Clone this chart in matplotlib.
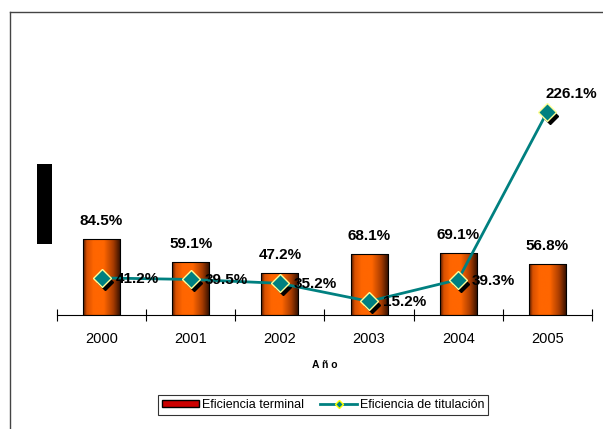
import matplotlib
matplotlib.use("Agg")
import matplotlib.pyplot as plt
import matplotlib.transforms as mtransforms
from matplotlib.colors import LinearSegmentedColormap
from matplotlib.patches import Rectangle
from matplotlib.lines import Line2D
import numpy as np

plt.rcParams["font.family"] = ["Liberation Sans", "DejaVu Sans"]

# datos
anios = ["2000", "2001", "2002", "2003", "2004", "2005"]
eficiencia_terminal = [84.5, 59.1, 47.2, 68.1, 69.1, 56.8]
eficiencia_titulacion = [41.2, 39.5, 35.2, 15.2, 39.3, 226.1]

fig = plt.figure(figsize=(6.03, 4.29), dpi=100)
# eje x en y=315 px, 0.9 px por punto porcentual
ax = fig.add_axes([57 / 603, 1 - 315 / 429, 535 / 603, 270 / 429])

x = np.arange(len(anios))
ancho = 0.415

# barras con degradado tipo cilindro
cmap = LinearSegmentedColormap.from_list(
    "cil",
    [(0.0, "#4a1800"), (0.1, "#d85000"), (0.28, "#ff6600"), (0.55, "#ff6600"),
     (0.8, "#a83c00"), (1.0, "#2a0c00")],
)
grad = np.linspace(0, 1, 256).reshape(1, -1)
barras = ax.bar(x, eficiencia_terminal, ancho, color="none", edgecolor="black",
                linewidth=0.8, zorder=2)
for b in barras:
    x0, h = b.get_x(), b.get_height()
    im = ax.imshow(grad, cmap=cmap, aspect="auto",
                   extent=[x0, x0 + ancho, 0, h], zorder=1)
    im.set_clip_path(b)
    ax.text(x0 + ancho / 2, h + 20, f"{h:.1f}%", ha="center", va="center",
            fontsize=11, fontweight="bold", zorder=5)

# linea de titulacion con sombra en marcadores
sombra = mtransforms.offset_copy(ax.transData, fig=fig, x=3, y=-4, units="dots")
ax.plot(x, eficiencia_titulacion, linestyle="none", marker="D", markersize=8.5,
        color="black", transform=sombra, zorder=3)
ax.plot(x, eficiencia_titulacion, color="#008080", linewidth=2, marker="D",
        markersize=9.5, markerfacecolor="#008080", markeredgecolor="#ffff99",
        markeredgewidth=1, zorder=4)
for i, v in enumerate(eficiencia_titulacion):
    if v > 200:
        ax.text(i + 0.27, v + 20, f"{v:.1f}%", ha="center", va="center",
                fontsize=11, fontweight="bold", zorder=5)
    else:
        ax.text(i + 0.155, v - 1, f"{v:.1f}%", ha="left", va="center",
                fontsize=11, fontweight="bold", zorder=5)

ax.set_xlim(-0.5, len(anios) - 0.5)
ax.set_ylim(0, 300)
for s in ["top", "right", "left"]:
    ax.spines[s].set_visible(False)
ax.spines["bottom"].set_linewidth(0.8)
ax.set_yticks([])
ax.set_xticks(x)
ax.set_xticklabels(anios, fontsize=10.5)
ax.tick_params(axis="x", which="major", length=0, pad=12)
ax.set_xticks(np.arange(-0.5, len(anios), 1), minor=True)
ax.tick_params(axis="x", which="minor", direction="inout", length=9, width=0.8)
ax.set_xlabel("A ñ o", fontsize=7.5, fontweight="bold", labelpad=10)

# leyenda
h_barra = Rectangle((0, 0), 1, 1, facecolor="#cc0000", edgecolor="black", linewidth=1)
h_linea = Line2D([], [], color="#008080", linewidth=2, marker="D", markersize=4,
                 markerfacecolor="#008080", markeredgecolor="#ffff00")
leg = fig.legend([h_barra, h_linea], ["Eficiencia terminal", "Eficiencia de titulación"],
                 loc="center", bbox_to_anchor=(323 / 603, 1 - 405 / 429), ncol=2,
                 fontsize=9, frameon=True, fancybox=False, edgecolor="black",
                 borderpad=0.3, handlelength=3.0, handleheight=0.5,
                 handletextpad=0.2, columnspacing=1.3)
leg.get_frame().set_linewidth(0.8)

# recuadro exterior y bloque negro del titulo del eje
fig.add_artist(Line2D([10 / 603, 10 / 603], [0, 1 - 12 / 429], color="#444444",
                      linewidth=1, transform=fig.transFigure))
fig.add_artist(Line2D([10 / 603, 1], [1 - 12 / 429, 1 - 12 / 429], color="#444444",
                      linewidth=1, transform=fig.transFigure))
fig.add_artist(Rectangle((37 / 603, 1 - 244 / 429), 15 / 603, 80 / 429,
                         facecolor="black", edgecolor="none",
                         transform=fig.transFigure))

fig.savefig("out.png", dpi=100)
